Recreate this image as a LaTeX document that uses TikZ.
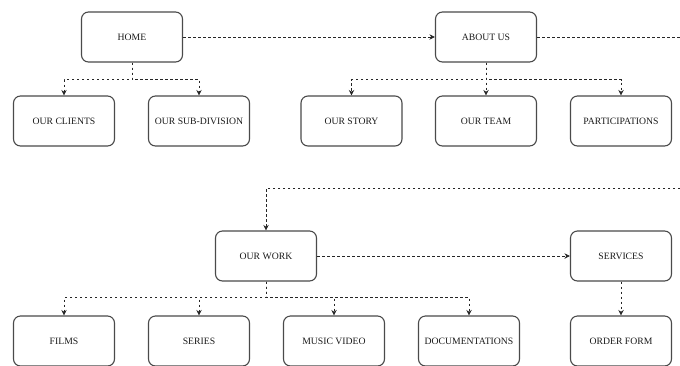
\documentclass[tikz,border=0pt]{standalone}
\usepackage{fontspec}
\setmainfont{Liberation Serif}
\usetikzlibrary{arrows.meta}
\definecolor{boxline}{HTML}{4A4A4A}
\definecolor{txt}{HTML}{1A1A1A}
\tikzset{
  pagebox/.style={draw=boxline, line width=1.1pt, rounded corners=7pt, fill=white,
    minimum width=101pt, minimum height=50pt, inner sep=0pt,
    font=\fontsize{9.7}{11}\selectfont, text=txt},
  link/.style={draw=black!85, line width=0.75pt, dash pattern=on 2.5pt off 2.5pt},
  linkarr/.style={link, -{Stealth[length=5.5pt,width=5.5pt]}}
}
\begin{document}
\begin{tikzpicture}[x=1pt,y=-1pt]
\useasboundingbox (0,0) rectangle (680,365);
% top row
\node[pagebox] (home) at (132,37) {HOME};
\node[pagebox] (about) at (486,37) {ABOUT US};
\node[pagebox] (clients) at (64,121) {OUR CLIENTS};
\node[pagebox] (subdiv) at (199,121) {OUR SUB-DIVISION};
\node[pagebox] (story) at (351.5,121) {OUR STORY};
\node[pagebox] (team) at (486,121) {OUR TEAM};
\node[pagebox] (part) at (621,121) {PARTICIPATIONS};
% second part
\node[pagebox] (work) at (266,256) {OUR WORK};
\node[pagebox] (services) at (621,256) {SERVICES};
\node[pagebox] (films) at (64,341) {FILMS};
\node[pagebox] (series) at (199,341) {SERIES};
\node[pagebox] (music) at (334,341) {MUSIC VIDEO};
\node[pagebox] (docs) at (469,341) {DOCUMENTATIONS};
\node[pagebox] (order) at (621,341) {ORDER FORM};
% off-page continuation points
\coordinate (edgeA) at (680,37);
\coordinate (edgeB) at (680,188);
% connectors
\draw[linkarr] (home.east) -- (about.west);
\draw[link] (about.east) -- (edgeA);
\draw[linkarr] (edgeB) -| (work.north);
\draw[linkarr] (home.south) -- ++(0,17) -| (clients.north);
\draw[linkarr] (home.south) -- ++(0,17) -| (subdiv.north);
\draw[linkarr] (about.south) -- ++(0,17) -| (story.north);
\draw[linkarr] (about.south) -- (team.north);
\draw[linkarr] (about.south) -- ++(0,17) -| (part.north);
\draw[linkarr] (work.east) -- (services.west);
\draw[linkarr] (work.south) -- ++(0,16) -| (films.north);
\draw[linkarr] (work.south) -- ++(0,16) -| (series.north);
\draw[linkarr] (work.south) -- ++(0,16) -| (music.north);
\draw[linkarr] (work.south) -- ++(0,16) -| (docs.north);
\draw[linkarr] (services.south) -- (order.north);
\end{tikzpicture}
\end{document}
